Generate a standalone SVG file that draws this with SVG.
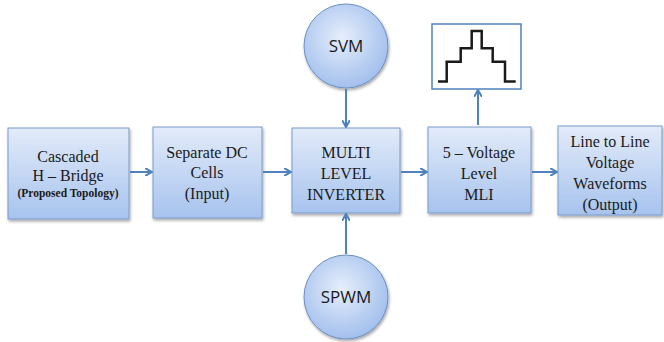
<svg xmlns="http://www.w3.org/2000/svg" width="664" height="342" viewBox="0 0 664 342">
<defs>
<linearGradient id="boxg" x1="0" y1="0" x2="0" y2="1">
<stop offset="0" stop-color="#e2ebf9"/>
<stop offset="1" stop-color="#a7c3ee"/>
</linearGradient>
<radialGradient id="circg" cx="0.45" cy="0.4" r="0.65">
<stop offset="0" stop-color="#e6eefb"/>
<stop offset="1" stop-color="#9dbcec"/>
</radialGradient>
<filter id="sh" x="-10%" y="-10%" width="125%" height="125%">
<feGaussianBlur in="SourceAlpha" stdDeviation="1.5"/>
<feOffset dx="1" dy="2" result="b"/>
<feComponentTransfer><feFuncA type="linear" slope="0.35"/></feComponentTransfer>
<feMerge><feMergeNode/><feMergeNode in="SourceGraphic"/></feMerge>
</filter>
<marker id="ah" markerWidth="8" markerHeight="8" refX="6" refY="4" orient="auto" markerUnits="userSpaceOnUse">
<path d="M0,0 L7,4 L0,8" fill="none" stroke="#4f81bd" stroke-width="2"/>
</marker>
</defs>
<style>
.box{fill:url(#boxg);stroke:#7b9bcb;stroke-width:1;filter:url(#sh)}
.circ{fill:url(#circg);stroke:#6d8fc2;stroke-width:1;filter:url(#sh)}
.t{font-family:"Liberation Serif",serif;font-size:16px;fill:#1a1a1a;text-anchor:middle}
.s{font-family:"Liberation Serif",serif;font-size:11.5px;font-weight:bold;fill:#1a1a1a;text-anchor:middle}
.c{font-family:"Open Sans","Liberation Sans",sans-serif;font-size:17px;fill:#1a1a1a;text-anchor:middle}
.con{stroke:#4f81bd;stroke-width:2;fill:none;marker-end:url(#ah)}
</style>
<rect width="664" height="342" fill="#ffffff"/>
<g id="n1"><rect class="box" x="8" y="128" width="121" height="91"/>
<text class="t" x="68" y="162">Cascaded</text>
<text class="t" x="68" y="181">H – Bridge</text>
<text class="s" x="68" y="197">(Proposed Topology)</text></g>
<g id="n2"><rect class="box" x="153" y="127" width="109" height="91"/>
<text class="t" x="207" y="158">Separate DC</text>
<text class="t" x="207" y="178">Cells</text>
<text class="t" x="207" y="199">(Input)</text></g>
<g id="n3"><rect class="box" x="292" y="128" width="108" height="85"/>
<text class="t" x="346" y="158">MULTI</text>
<text class="t" x="346" y="179">LEVEL</text>
<text class="t" x="346" y="200">INVERTER</text></g>
<g id="n4"><rect class="box" x="428" y="127" width="103" height="86"/>
<text class="t" x="479" y="158">5 – Voltage</text>
<text class="t" x="479" y="179">Level</text>
<text class="t" x="479" y="200">MLI</text></g>
<g id="n5"><rect class="box" x="558" y="126" width="104" height="89"/>
<text class="t" x="610" y="147">Line to Line</text>
<text class="t" x="610" y="168">Voltage</text>
<text class="t" x="610" y="189">Waveforms</text>
<text class="t" x="610" y="210">(Output)</text></g>
<g id="svm"><circle class="circ" cx="346" cy="46" r="42"/>
<text class="c" x="346" y="52">SVM</text></g>
<g id="spwm"><circle class="circ" cx="346" cy="297" r="42"/>
<text class="c" x="346" y="303">SPWM</text></g>
<g id="wave"><rect x="432" y="24" width="89" height="65" fill="#ffffff" stroke="#4f81bd" stroke-width="1.5"/>
<path d="M438,81.5 H446.7 V61.7 H460.7 V48.3 H471.7 V31 H481.7 V48.3 H492.7 V61.7 H505 V81.5 H515.7" fill="none" stroke="#1a1a1a" stroke-width="2.5"/></g>
<g id="connectors">
<line class="con" x1="130" y1="172" x2="151" y2="172"/>
<line class="con" x1="263" y1="172" x2="290" y2="172"/>
<line class="con" x1="401" y1="172" x2="426" y2="172"/>
<line class="con" x1="532" y1="172" x2="556" y2="172"/>
<line class="con" x1="346" y1="89" x2="346" y2="126"/>
<line class="con" x1="346" y1="254" x2="346" y2="215"/>
<line class="con" x1="478" y1="125" x2="478" y2="91"/>
</g>
</svg>
